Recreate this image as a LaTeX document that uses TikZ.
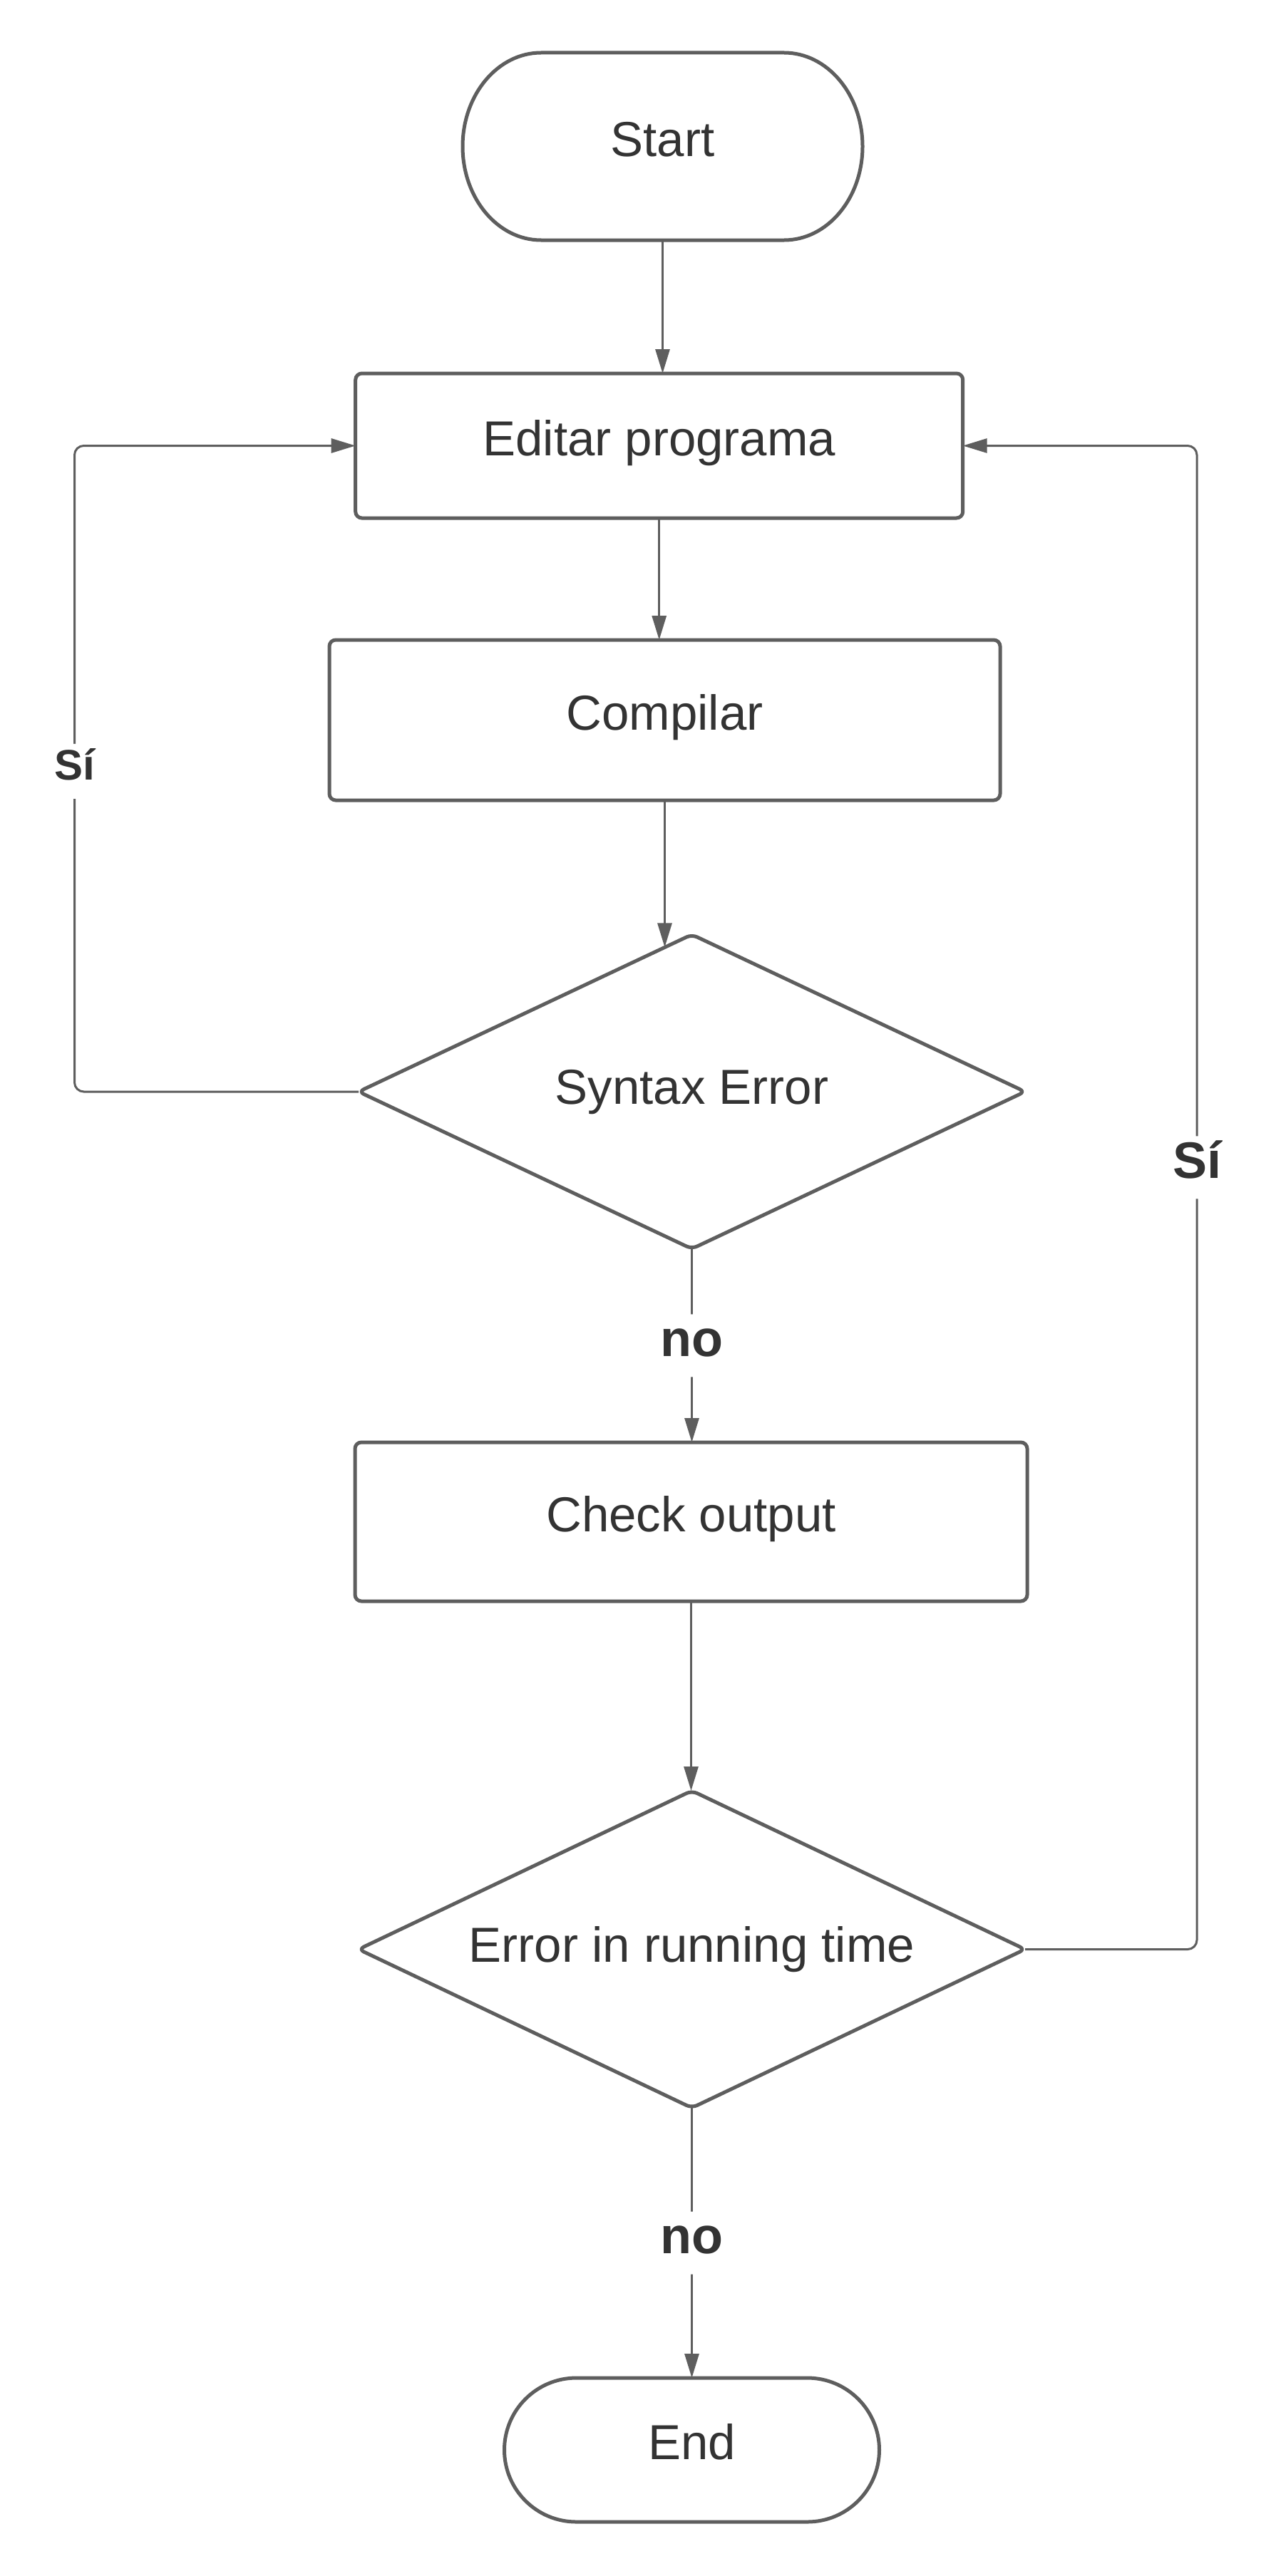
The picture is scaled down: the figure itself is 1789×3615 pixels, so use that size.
\documentclass[tikz,border=0pt]{standalone}
\usepackage{fontspec}
\setmainfont{Liberation Sans}
\usetikzlibrary{arrows.meta,calc}
\definecolor{ln}{HTML}{5E5E5E}
\definecolor{tx}{HTML}{333333}
\begin{document}
\begin{tikzpicture}[x=1pt,y=-1pt,
  box/.style={draw=ln, line width=5pt, rounded corners=9pt, fill=white, text=tx,
    font=\fontsize{69}{80}\selectfont, text height=49.5pt, text depth=22pt,
    inner sep=0pt, outer sep=0pt},
  term/.style={box, rounded corners=#1},
  dec/.style={text=tx, font=\fontsize{69}{80}\selectfont, text height=49.5pt,
    text depth=14pt, inner sep=0pt, outer sep=0pt},
  decshape/.style={draw=ln, line width=5pt, rounded corners=8pt, line join=round},
  conn/.style={draw=ln, line width=3pt, rounded corners=13pt,
    -{Triangle[length=34pt,width=20pt]}},
  lbl/.style={fill=white, text=tx, font=\bfseries\fontsize{72}{80}\selectfont,
    text height=52pt, text depth=22pt, inner xsep=4pt, inner ysep=7pt},
  lblsm/.style={fill=white, text=tx, font=\bfseries\fontsize{60}{70}\selectfont,
    text height=43pt, text depth=18pt, inner xsep=4pt, inner ysep=8pt}
]
\fill[white] (0,0) rectangle (1789,3615);
\useasboundingbox (0,0) rectangle (1789,3615);

% diamonds
\node[dec, minimum width=935pt, minimum height=441pt] (syn) at (970.5,1532) {};
\draw[decshape] (syn.north) -- (syn.east) -- (syn.south) -- (syn.west) -- cycle;
\node[dec] (syntxt) at (syn) {Syntax Error};

\node[dec, minimum width=935pt, minimum height=445pt] (run) at (970.5,2735.5) {};
\draw[decshape] (run.north) -- (run.east) -- (run.south) -- (run.west) -- cycle;
\node[dec] (runtxt) at (run) {Error in running time};

% start terminal (elliptical ends)
\node[box, draw=none, fill=none, minimum width=561pt, minimum height=263pt] (start) at (929.5,205.5) {Start};
\draw[draw=ln, line width=5pt]
  ([xshift=110pt]start.north west) -- ([xshift=-110pt]start.north east)
  arc[start angle=90, end angle=-90, x radius=110pt, y radius=131.5pt]
  -- ([xshift=110pt]start.south west)
  arc[start angle=270, end angle=90, x radius=110pt, y radius=131.5pt] -- cycle;

% boxes
\node[box, minimum width=852pt, minimum height=203pt] (edit) at (924.7,625.5) {Editar programa};
\node[box, minimum width=941pt, minimum height=225pt] (comp) at (932.5,1010.5) {Compilar};
\node[box, minimum width=943pt, minimum height=223pt] (chk) at (969.5,2135.5) {Check output};
\node[term=101pt, minimum width=526pt, minimum height=202pt] (endn) at (970.5,3438) {End};

\coordinate (lx) at (104.5,0);
\coordinate (rx) at (1679,0);
\coordinate (synin) at ($(syn.north)!0.081!(syn.west)$);

% connectors
\draw[conn] (start.south) -- (start.south |- edit.north);
\draw[conn] (edit.south) -- (edit.south |- comp.north);
\draw[conn] (comp.south) -- (comp.south |- synin);
\draw[conn] (syn.south) -- node[lbl] (no1) {no} (syn.south |- chk.north);
\draw[conn] (chk.south) -- (chk.south |- run.north);
\draw[conn] (run.south) -- node[lbl] (no2) {no} (run.south |- endn.north);
\draw[conn] (syn.west) -- (lx |- syn.west) -- node[lblsm, pos=0.496] (si1) {Sí} (lx |- edit.west) -- (edit.west);
\draw[conn] (run.east) -- (rx |- run.east) -- node[lbl, pos=0.52] (si2) {Sí} (rx |- edit.east) -- (edit.east);
\end{tikzpicture}
\end{document}
